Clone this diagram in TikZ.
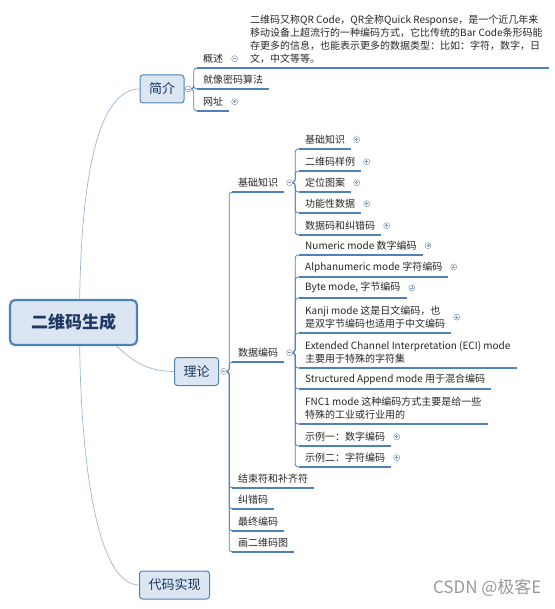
\documentclass[tikz,border=0pt]{standalone}
\usepackage{fontspec}
\setmainfont{Noto Sans CJK SC}
\usetikzlibrary{positioning,backgrounds}
\definecolor{boxblue}{HTML}{4F81BD}
\definecolor{boxfill}{HTML}{DCE6F2}
\definecolor{deepnavy}{HTML}{1F3864}
\definecolor{topictext}{HTML}{17365D}
\definecolor{trunkblue}{HTML}{9DB5DA}
\definecolor{lineblue}{HTML}{4F81BD}
\definecolor{knobgray}{HTML}{7F95B5}

\begin{document}
\begin{tikzpicture}[x=1pt, y=-1pt,
    trunk/.style={draw=trunkblue, line width=0.7pt},
    branch/.style={draw=lineblue, line width=0.8pt, rounded corners=3pt},
    uline/.style={draw=lineblue, line width=1.4pt},
    topic/.style={draw=boxblue, fill=boxfill, rounded corners=3pt, line width=1pt,
        minimum height=28pt, inner xsep=9pt, font=\fontsize{13}{15}\selectfont, text=topictext},
    leaf/.style={anchor=south west, inner xsep=6pt, inner ysep=4.5pt, align=left,
        font=\fontsize{10}{13}\selectfont, text=black!85},
    knob/.style={circle, draw=knobgray, fill=white, line width=0.5pt, minimum size=6pt, inner sep=0pt},
    knobminus/.style={knob, path picture={
        \draw[knobgray, line width=0.5pt] ([xshift=-1.5pt]path picture bounding box.center) -- ([xshift=1.5pt]path picture bounding box.center);}},
    knobplus/.style={knob, path picture={
        \draw[knobgray, line width=0.5pt] ([xshift=-1.5pt]path picture bounding box.center) -- ([xshift=1.5pt]path picture bounding box.center)
            ([yshift=-1.5pt]path picture bounding box.center) -- ([yshift=1.5pt]path picture bounding box.center);}},
]
    \useasboundingbox (0,0) rectangle (554,609);

    % central topic and main topics
    \node[topic, line width=2.2pt, rounded corners=5pt, minimum width=127pt, minimum height=45pt,
        font=\bfseries\fontsize{17}{19}\selectfont, text=deepnavy] (root) at (73.5,322.5) {二维码生成};
    \node[topic] (jianjie) at (162,89) {简介};
    \node[topic] (lilun) at (196.5,371.5) {理论};
    \node[topic] (daima) at (174.5,585) {代码实现};

    % 简介
    \node[leaf] (gaishu) at (197,68) {概述};
    \node[leaf] (jiuxiang) at (197,89) {就像密码算法};
    \node[leaf] (wangzhi) at (197,111) {网址};
    \node[leaf] (miaoshu) at (244,68) {二维码又称QR Code，QR全称Quick Response，是一个近几年来\\
        移动设备上超流行的一种编码方式，它比传统的Bar Code条形码能\\
        存更多的信息，也能表示更多的数据类型：比如：字符，数字，日\\
        文，中文等等。};

    % 理论
    \node[leaf] (jichu) at (232,192) {基础知识};
    \node[leaf] (shuju) at (232,362) {数据编码};
    \node[leaf] (jieshu) at (232,488) {结束符和补齐符};
    \node[leaf] (jiucuo) at (232,509) {纠错码};
    \node[leaf] (zuizhong) at (232,531) {最终编码};
    \node[leaf] (huatu) at (232,552) {画二维码图};

    % 基础知识
    \node[leaf] (jcA) at (299,149) {基础知识};
    \node[leaf] (jcB) at (299,171) {二维码样例};
    \node[leaf] (jcC) at (299,192) {定位图案};
    \node[leaf] (jcD) at (299,213) {功能性数据};
    \node[leaf] (jcE) at (299,235) {数据码和纠错码};

    % 数据编码
    \node[leaf] (sjA) at (299,255) {Numeric mode 数字编码};
    \node[leaf] (sjB) at (299,277) {Alphanumeric mode 字符编码};
    \node[leaf] (sjC) at (299,298) {Byte mode, 字节编码};
    \node[leaf] (sjD) at (299,333) {Kanji mode 这是日文编码，也\\是双字节编码也适用于中文编码};
    \node[leaf] (sjE) at (299,368) {Extended Channel Interpretation (ECI) mode\\主要用于特殊的字符集};
    \node[leaf] (sjF) at (299,389) {Structured Append mode 用于混合编码};
    \node[leaf] (sjG) at (299,424) {FNC1 mode 这种编码方式主要是给一些\\特殊的工业或行业用的};
    \node[leaf] (sjH) at (299,446) {示例一：数字编码};
    \node[leaf] (sjI) at (299,467) {示例二：字符编码};

    % collapse / expand knobs
    \node[knobminus, right=0.5pt of jianjie] (jianjieK) {};
    \node[knobminus, right=1.5pt of lilun] (lilunK) {};
    \foreach \nd in {gaishu,jichu,shuju}
        \node[knobminus, right=2pt of \nd] (\nd K) {};
    \foreach \nd in {wangzhi,jcA,jcB,jcC,jcD,jcE,sjA,sjB,sjC,sjD,sjH,sjI}
        \node[knobplus, right=2pt of \nd] (\nd K) {};

    \begin{scope}[on background layer]
        \draw[trunk] ([xshift=6pt]root.center) .. controls +(0,-170) and +(-35,0) .. (jianjie.west);
        \draw[trunk] (root.center) .. controls +(42,3) and +(-55,0) .. (lilun.west);
        \draw[trunk] ([xshift=6pt]root.center) .. controls +(0,150) and +(-40,0) .. (daima.west);

        \foreach \nd in {gaishu,jiuxiang,wangzhi}
            \draw[branch] (jianjieK.center) -- ++(5.5,0) |- (\nd.south west);
        \draw[uline] (gaishu.south east) -- (miaoshu.south west);
        \foreach \nd in {jichu,shuju,jieshu,jiucuo,zuizhong,huatu}
            \draw[branch] (lilunK.center) -- ++(5.5,0) |- (\nd.south west);
        \foreach \nd in {jcA,jcB,jcC,jcD,jcE}
            \draw[branch] (jichuK.center) -- ++(5.5,0) |- (\nd.south west);
        \foreach \nd in {sjA,sjB,sjC,sjD,sjE,sjF,sjG,sjH,sjI}
            \draw[branch] (shujuK.center) -- ++(5.5,0) |- (\nd.south west);
    \end{scope}

    % underlines
    \foreach \nd in {gaishu,jiuxiang,wangzhi,miaoshu,jichu,shuju,jieshu,jiucuo,zuizhong,huatu,
        jcA,jcB,jcC,jcD,jcE,sjA,sjB,sjC,sjD,sjE,sjF,sjG,sjH,sjI}
        \draw[uline] (\nd.south west) -- (\nd.south east);

    \node[anchor=east, font=\fontsize{17}{19}\selectfont, text=black!40] (csdn) at (545,588) {CSDN @极客E};
\end{tikzpicture}
\end{document}
